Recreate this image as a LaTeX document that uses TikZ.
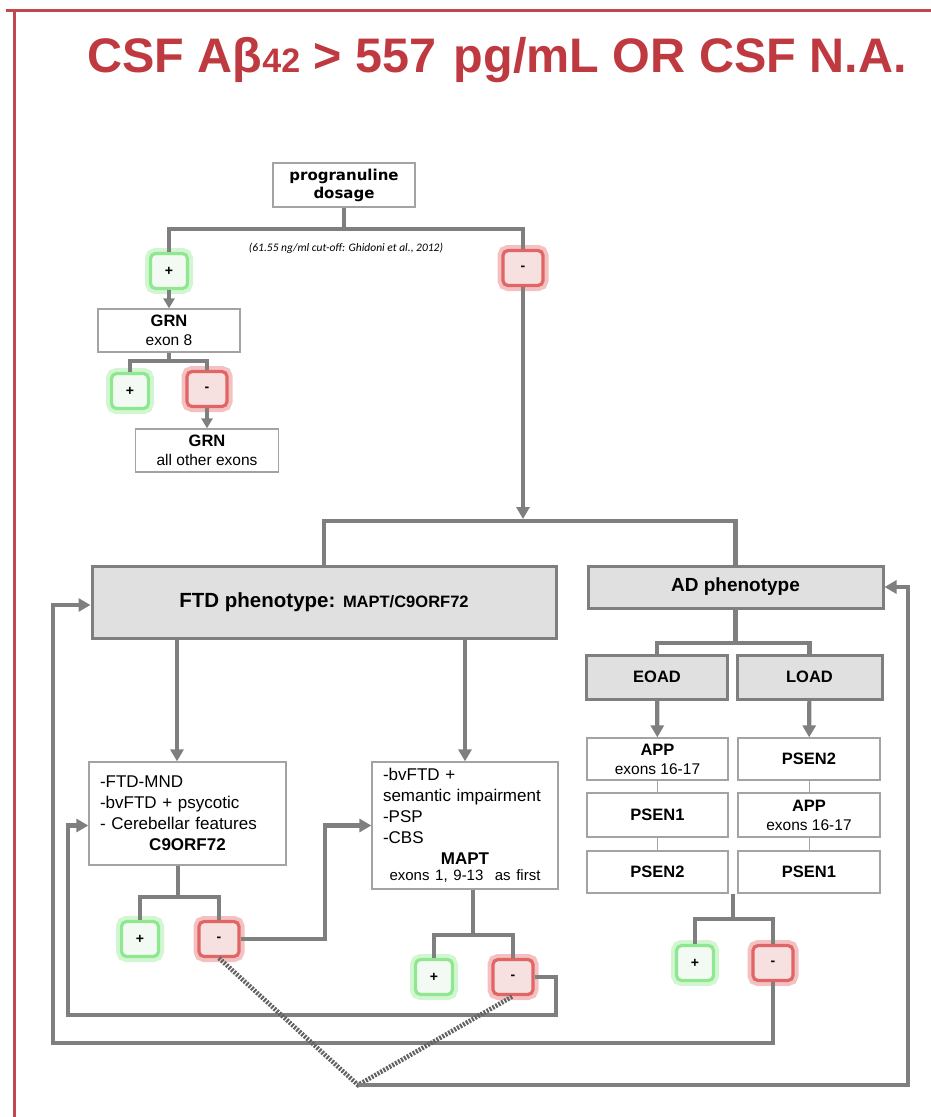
\documentclass[tikz,border=0pt]{standalone}
\usepackage{fontspec}
\setmainfont{Liberation Sans}
\newfontfamily\dosefont{DejaVu Sans}
\newfontfamily\notefont{Carlito}
\usetikzlibrary{arrows.meta,calc}
\definecolor{framered}{HTML}{C0474F}
\definecolor{titlered}{HTML}{BF3A40}
\definecolor{linegray}{HTML}{7F7F7F}
\definecolor{dotgray}{HTML}{626262}
\definecolor{boxgray}{HTML}{A3A3A3}
\definecolor{phenofill}{HTML}{E0E0E0}
\definecolor{glowgreen}{HTML}{8FE88F}
\definecolor{posfill}{HTML}{F3FAF3}
\definecolor{glowred}{HTML}{E26565}
\definecolor{negfill}{HTML}{F6E0E0}
\tikzset{
  redrule/.style={draw=framered, line width=3pt},
  titletext/.style={text=titlered, inner sep=0pt,
                    font=\bfseries\fontsize{48.5}{52}\selectfont},
  flowline/.style={draw=linegray, line width=4.2pt},
  flowarrow/.style={flowline, -{Triangle[length=12pt,width=13pt]}},
  smallarrow/.style={flowline, line width=3.4pt,
                     -{Triangle[length=10pt,width=11pt]}},
  stackline/.style={draw=boxgray, line width=1pt},
  dotline/.style={draw=dotgray, line width=4.6pt,
                  dash pattern=on 2pt off 1.4pt},
  whitebox/.style={draw=boxgray, line width=1.3pt, fill=white,
                   inner sep=0pt, align=center,
                   font=\fontsize{15.5}{19}\selectfont},
  graybox/.style={draw=linegray, line width=3pt, fill=phenofill,
                  inner sep=0pt, font=\bfseries},
  signbox/.style={rounded corners=5pt, line width=3.2pt, inner sep=0pt,
                  minimum width=37pt, minimum height=35pt,
                  font=\bfseries\fontsize{14}{14}\selectfont},
  posbox/.style={signbox, draw=glowgreen, fill=posfill,
                 preaction={draw=glowgreen, draw opacity=0.4,
                            line width=11pt}},
  negbox/.style={signbox, draw=glowred, fill=negfill, minimum width=40pt,
                 preaction={draw=glowred, draw opacity=0.4,
                            line width=11pt}},
  notetext/.style={inner sep=0pt,
                   font=\notefont\itshape\fontsize{11.5}{13}\selectfont}
}

\begin{document}
\begin{tikzpicture}[x=1pt,y=-1pt]
  \useasboundingbox (0,0) rectangle (931,1117);

  % Frame and heading.
  \draw[redrule] (6,10) -- (931,10);
  \draw[redrule] (14,10) -- (14,1117);
  \node[titletext, anchor=base] (title) at (497,72)
    {CSF Aβ{\fontsize{34}{34}\selectfont 42} > 557\kern4pt{} pg/mL OR CSF N.A.};

  % -------------------------------------------------------------------------
  % Progranulin dosage, then GRN sequencing.
  \node[whitebox, minimum width=142pt, minimum height=44pt,
        font=\dosefont\bfseries\fontsize{15}{18}\selectfont]
    (dose) at (344,185) {progranuline\\dosage};
  \node[notetext] (cutoff) at (346,248)
    {(61.55 ng/ml cut-off: Ghidoni et al., 2012)};
  \node[posbox] (pos1) at (169,271) {+};
  \node[negbox] (neg1) at (523,268) {-};
  \coordinate (dosesplit) at (344,229);
  \draw[flowline] (dose) -- (dosesplit);
  \draw[flowline] (pos1) |- (dosesplit) -| (neg1);

  \node[whitebox, minimum width=142pt, minimum height=43pt]
    (grn8) at (169,330.5) {\textbf{\fontsize{16.5}{18}\selectfont GRN}\\exon 8};
  \draw[smallarrow] (pos1) -- (grn8);
  \coordinate (grnsplit) at (169,361);
  \node[posbox] (pos2) at (130,391) {+};
  \node[negbox] (neg2) at (207,389) {-};
  \draw[flowline, line width=3.4pt] (grn8) -- (grnsplit);
  \draw[flowline, line width=3.4pt] (pos2) |- (grnsplit) -| (neg2);
  \node[whitebox, minimum width=143pt, minimum height=43pt]
    (grnall) at (207,450.5)
    {\textbf{\fontsize{16.5}{18}\selectfont GRN}\\all other exons};
  \draw[smallarrow] (neg2) -- (grnall);

  % -------------------------------------------------------------------------
  % Phenotype split.
  \node[graybox, minimum width=464pt, minimum height=72pt]
    (ftd) at (324,602)
    {{\fontsize{20.5}{24}\selectfont FTD phenotype: }%
     {\fontsize{16.5}{20}\selectfont MAPT/C9ORF72}};
  \node[graybox, minimum width=295pt, minimum height=42pt,
        font=\bfseries\fontsize{19}{23}\selectfont]
    (ad) at (735.5,587) {AD phenotype};
  \coordinate (phensplit) at (523,521);
  \draw[flowarrow, shorten >=2pt] (neg1) -- (phensplit);
  \draw[flowline] (ftd) |- (phensplit) -| (ad);

  % -------------------------------------------------------------------------
  % FTD: C9ORF72 first, MAPT next.
  \node[whitebox, text width=175pt, align=left, inner xsep=11pt,
        minimum height=103pt, font=\fontsize{17}{21}\selectfont]
    (c9) at (187.5,813.5)
    {-FTD-MND\\-bvFTD + psycotic\\- Cerebellar features\\
     \makebox[\hsize][c]{\bfseries C9ORF72}};
  \node[whitebox, text width=164pt, align=left, inner xsep=11pt,
        minimum height=127pt, font=\fontsize{17}{21}\selectfont]
    (mapt) at (465,825.5)
    {-bvFTD +\\semantic impairment\\-PSP\\-CBS\\
     \makebox[\hsize][c]{\bfseries MAPT}\\[-5pt]
     \makebox[\hsize][c]{\fontsize{15}{16}\selectfont exons 1, 9-13\ \ as first}};
  \coordinate (c9in) at ([xshift=-10.5pt]c9.north);
  \draw[flowarrow] (c9in |- ftd.south) -- (c9in);
  \draw[flowarrow] (mapt.north |- ftd.south) -- (mapt.north);

  \coordinate (c9out) at ([xshift=-9.5pt]c9.south);
  \coordinate (c9split) at (178,897);
  \node[posbox] (pos3) at (140,939) {+};
  \node[negbox] (neg3) at (219,939) {-};
  \draw[flowline] (c9out) -- (c9split);
  \draw[flowline] (pos3) |- (c9split) -| (neg3);
  \coordinate (c9bend) at (325,939);
  \draw[flowarrow] (neg3) -- (c9bend) |- (mapt);

  \coordinate (maptout) at ([xshift=8pt]mapt.south);
  \coordinate (maptsplit) at (473,935);
  \node[posbox] (pos4) at (434,977) {+};
  \node[negbox] (neg4) at (513,977) {-};
  \draw[flowline] (maptout) -- (maptsplit);
  \draw[flowline] (pos4) |- (maptsplit) -| (neg4);

  % MAPT negative goes back round to the C9ORF72 box.
  \coordinate (innerR) at (556,1015);
  \coordinate (innerL) at (68,1015);
  \coordinate (c9back) at ([yshift=-12pt]c9.west);
  \draw[flowarrow] (neg4) -| (innerR) -- (innerL) |- (c9back);

  % -------------------------------------------------------------------------
  % AD: early and late onset orders.
  \node[graybox, minimum width=141pt, minimum height=44pt,
        font=\bfseries\fontsize{16.5}{20}\selectfont]
    (eoad) at (657,677) {EOAD};
  \node[graybox, minimum width=145pt, minimum height=44pt,
        font=\bfseries\fontsize{16.5}{20}\selectfont]
    (load) at (809.5,677) {LOAD};
  \coordinate (adsplit) at (735.5,643);
  \draw[flowline] (ad) -- (adsplit);
  \draw[flowline] (eoad) |- (adsplit) -| (load);

  \node[whitebox, minimum width=141pt, minimum height=42pt]
    (eapp) at (657.5,759)
    {\textbf{\fontsize{16.5}{19}\selectfont APP}\\exons 16-17};
  \node[whitebox, minimum width=141pt, minimum height=44pt,
        font=\bfseries\fontsize{16.5}{19}\selectfont]
    (epsenA) at (657.5,815) {PSEN1};
  \node[whitebox, minimum width=141pt, minimum height=42pt,
        font=\bfseries\fontsize{16.5}{19}\selectfont]
    (epsenB) at (657.5,872) {PSEN2};
  \node[whitebox, minimum width=142pt, minimum height=42pt,
        font=\bfseries\fontsize{16.5}{19}\selectfont]
    (lpsenB) at (809,759) {PSEN2};
  \node[whitebox, minimum width=142pt, minimum height=44pt]
    (lapp) at (809,815)
    {\textbf{\fontsize{16.5}{19}\selectfont APP}\\exons 16-17};
  \node[whitebox, minimum width=142pt, minimum height=42pt,
        font=\bfseries\fontsize{16.5}{19}\selectfont]
    (lpsenA) at (809,872) {PSEN1};
  \draw[flowarrow] (eoad) -- (eapp);
  \draw[flowarrow] (load) -- (lpsenB);
  \draw[stackline] (eapp) -- (epsenA);
  \draw[stackline] (epsenA) -- (epsenB);
  \draw[stackline] (lpsenB) -- (lapp);
  \draw[stackline] (lapp) -- (lpsenA);

  \coordinate (adbase) at ($(epsenB.south east)!.5!(lpsenA.south west)$);
  \coordinate (adcheck) at ($(adbase)+(0,25)$);
  \node[posbox] (pos5) at (695,963) {+};
  \node[negbox] (neg5) at (773,963) {-};
  \draw[flowline] (adbase) -- (adcheck);
  \draw[flowline] (pos5) |- (adcheck) -| (neg5);

  % AD negative goes back to the FTD phenotype.
  \coordinate (outerL) at (53,1043);
  \draw[flowarrow] (neg5) |- (outerL) |- ([yshift=-3pt]ftd.west);

  % Both FTD negatives meet and go back to the AD phenotype.
  \coordinate (vee) at (358,1085);
  \coordinate (outerR) at (908,1085);
  \draw[dotline] (neg3.south) -- (vee) -- (neg4.south);
  \draw[flowarrow] (vee) -- (outerR) |- (ad);
\end{tikzpicture}
\end{document}
